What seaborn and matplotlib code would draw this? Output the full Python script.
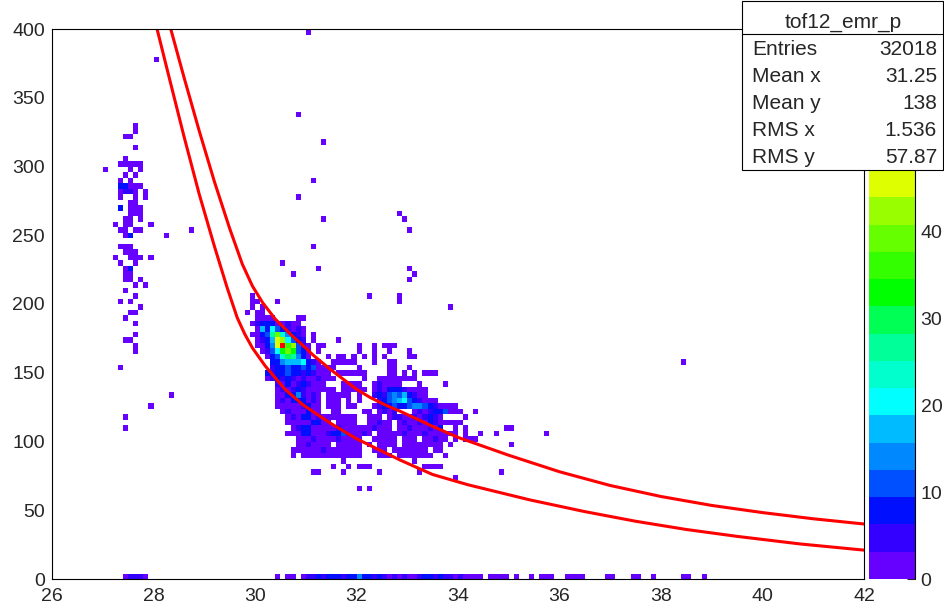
import matplotlib
matplotlib.use("Agg")
import matplotlib.pyplot as plt
from matplotlib.colors import ListedColormap, Normalize
from matplotlib.cm import ScalarMappable
from matplotlib.patches import Rectangle
from matplotlib.lines import Line2D
from matplotlib.ticker import MultipleLocator
import pandas as pd
import seaborn as sns

# ROOT-style palette bands (0 .. 47.1 in 15 steps), red above the top
palette = ["#6600ff", "#3300ff", "#0010ff", "#0050ff", "#0088ff", "#00bbff",
           "#00ffff", "#00ffcc", "#00ff99", "#00ff55", "#00ff00", "#33ff00",
           "#66ff00", "#99ff00", "#ddff00"]
band_edges = [0, 3.14, 6.28, 9.42, 12.56, 15.7, 18.84, 21.98, 25.12, 28.26,
              31.4, 34.54, 37.68, 40.82, 43.96, 46.7]
level_keys = "123456789abcdefr"
level_counts = [1.6, 4.7, 7.9, 11.0, 14.1, 17.3, 20.4, 23.6, 26.7, 29.8,
                33.0, 36.1, 39.3, 42.4, 45.5, 48.0]

# cell maps: one char per 0.1 x-bin, one row per 4 y-bin
# main cluster, first column x=29.8, top row y=204
core_rows = [
    ".1........ .......... ....1..... 1",
    ".11...1... .......... .......... 1",
    ".1.1...... .......... .......... .......... 1",
    "1.11......",
    "..1111.... 11",
    ".123331121 1",
    "..16374321 21",
    ".11349d853 21.1",
    "..1236fe74 32.1....1.",
    "..1135frce 421.11.... ..1..1.111",
    "...1247bdb 431.1..... ..1..1..1. ..1",
    "....1348a9 531...1.11 .1.1.1.1.. ..11",
    ".....33566 67321..111 11...1..11",
    ".....23343 34341111.. ..1.....11 ..1",
    "....323343 3232111.11 1111....11 .1.1.111",
    "....123232 12112111.. ...1..1111 1111",
    "......2131 232111...1 111..12111 1...1....1",
    "......1212 32111111.1 1111.12133 321111",
    "......1133 52121.1111 1.1..23245 463211",
    "......1213 33121.111. 1.1...2345 67432111",
    "......1111 12311.111. 11...12334 3345543211 11",
    ".......121 11311..11. ...11.1212 ...1212334 111..1",
    "........12 1331211111 11..111.12 211212321. ...1",
    "........11 1113311.11 11..11211. 1211213211 111",
    ".........1 2331111121 111112111. 112111213. .1.1...... .11",
    "........11 1331112334 11121.1111 1211121111 11.1..1..1 .........1",
    ".......... 1112111121 111..11111 .111.11211 .1.111",
    ".......... 1121111.11 111.1.1111 .11111111. 1......... ..1",
    ".........1 1111121111 111..111.1 111111.11.",
    ".........1 .111111111 111...111. 1111111..1",
    ".......... .........1 .......... ...1",
    ".......... .......1.. 1.111..... .....1111.",
    ".......... ...11....1 ......1... ....1..... .......... 1",
    ".......... .......... .......... .......... .1",
    "",
    ".......... .......... ..1.1",
]
core_x0, core_ytop = 29.8, 204

# left vertical band, first column x=27.0, top row y=328
left_rows = [
    "......1", "......1", "....11", "", "......1", "", "....1", "...11111",
    "1....1.1", "....1.1", "...1.1", "...33111", "...1221.1", "...1..1.1",
    ".....11", "...3.111", ".....111", "....11.1", "..1.11...1",
    "...11.11.........1", "....13......1", "", "...111", "....111",
    "..1..111.1", "...1..1", "....13", "....11", "....11.1", "......1.1",
    "....1", "......1", "...1.1", ".......1", ".....11", "....1", "......1",
    "", "......1", "....11", "......1", "......1", "", "", "...1", "",
    "", "", "", ".............1", "", ".........1", "", "....1", "", "....1",
]
left_x0, left_ytop = 27.0, 328

# lowest y bin (0-4), first column x=27.4
bottom_row = ("12221 ......................... 1.11. 1223233323 3533232121 "
              "2112332322 121111 .1111.1..1.111..1111....11...11..1.....11..1")
bottom_x0 = 27.4

# isolated single-entry cells
lone_x = [28.05, 31.05, 30.85, 31.35, 31.15, 30.85, 32.85, 32.95, 31.35,
          33.05, 31.15, 30.55, 30.75, 31.25, 33.05, 33.15, 33.05, 38.45]
lone_y = [374, 398, 334, 314, 286, 274, 262, 258, 258, 250, 238, 226, 218,
          222, 222, 218, 214, 154]

# the two red cut lines
upper_x = [28.34, 28.6, 28.9, 29.2, 29.5, 29.75, 29.95, 30.15, 30.4, 30.7,
           31.0, 31.14, 31.5, 32.0, 32.27, 32.6, 32.86, 33.5, 34.0, 35.0,
           36.0, 37.0, 38.0, 39.0, 40.0, 41.0, 42.0]
upper_y = [400, 365, 326, 289, 255, 229, 213, 201, 189, 178, 168, 163, 152,
           138, 132, 126, 122, 111, 103, 90, 78, 68, 60, 53.5, 48.3, 43.8, 40]
lower_x = [28.07, 28.3, 28.6, 28.9, 29.2, 29.45, 29.65, 29.8, 29.95, 30.2,
           30.59, 30.95, 31.5, 32.0, 32.86, 33.5, 34.2, 35.42, 36.5, 37.5,
           38.5, 39.5, 40.74, 42.0]
lower_y = [400, 366, 322, 280, 242, 212, 190, 178, 168, 155, 138, 126.5,
           113, 102, 86.5, 76, 68.5, 57.5, 49, 42, 36, 31, 25.5, 21]

stats_labels = ["Entries", "Mean x", "Mean y", "RMS x", "RMS y"]
stats_values = ["32018", "31.25", "138", "1.536", "57.87"]

xs, ys, ns = [], [], []


def add_rows(rows, x0, ytop):
    for k, row in enumerate(rows):
        for j, ch in enumerate(row.replace(" ", "")):
            if ch != ".":
                xs.append(x0 + 0.1 * j + 0.05)
                ys.append(ytop - 4 * k + 2)
                ns.append(level_counts[level_keys.index(ch)])


add_rows(core_rows, core_x0, core_ytop)
add_rows(left_rows, left_x0, left_ytop)
add_rows([bottom_row], bottom_x0, 0)
for x, y in zip(lone_x, lone_y):
    xs.append(x)
    ys.append(y + 2)
    ns.append(level_counts[0])
cells = pd.DataFrame({"x": xs, "y": ys, "n": ns})

sns.set_style("white")
plt.rcParams["font.family"] = ["Liberation Sans", "DejaVu Sans"]

W, H = 945, 608
fig = plt.figure(figsize=(W / 100, H / 100), dpi=100)


def box(x0, y0, x1, y1):
    return [x0 / W, 1 - y1 / H, (x1 - x0) / W, (y1 - y0) / H]


ax = fig.add_axes(box(52, 29, 864, 579))
cax = fig.add_axes(box(869, 170, 915, 579))

cmap = ListedColormap(palette)
cmap.set_over("#ff0000")

sns.histplot(data=cells, x="x", y="y", weights="n", bins=(160, 100),
             binrange=((26, 42), (0, 400)), cmap=cmap, vmax=47.1, ax=ax)
sns.lineplot(x=upper_x, y=upper_y, color="#ff0000", lw=2.2, ax=ax,
             estimator=None, sort=False)
sns.lineplot(x=lower_x, y=lower_y, color="#ff0000", lw=2.2, ax=ax,
             estimator=None, sort=False)

ax.set_xlim(26, 42)
ax.set_ylim(0, 400)
ax.set_xlabel("")
ax.set_ylabel("")
ax.xaxis.set_major_locator(MultipleLocator(2))
ax.xaxis.set_minor_locator(MultipleLocator(0.5))
ax.yaxis.set_major_locator(MultipleLocator(50))
ax.yaxis.set_minor_locator(MultipleLocator(10))
ax.tick_params(axis="x", which="major", direction="in", length=11.5,
               width=0.8, labelsize=14, pad=6.5)
ax.tick_params(axis="x", which="minor", direction="in", length=5.8, width=0.8)
ax.tick_params(axis="y", which="major", direction="in", length=17,
               width=0.8, labelsize=14, pad=5)
ax.tick_params(axis="y", which="minor", direction="in", length=8.6, width=0.8)
for s in ax.spines.values():
    s.set_linewidth(0.8)
    s.set_color("black")

# colour scale
mids = [(a + b) / 2 for a, b in zip(band_edges[:-1], band_edges[1:])]
sm = ScalarMappable(norm=Normalize(0, 47.1), cmap=cmap)
cb = fig.colorbar(sm, cax=cax, boundaries=band_edges, values=mids)
cb.outline.set_visible(False)
cb.set_ticks([0, 10, 20, 30, 40])
cax.minorticks_off()
cax.tick_params(direction="in", length=6, width=0.8, labelsize=14, pad=4,
                right=True, left=False)
cax.plot([1, 1], [0, 1], transform=cax.transAxes, color="black", lw=0.8,
         clip_on=False)

# stats box
fig.add_artist(Rectangle((742.5 / W, 1 - 170 / H), 201 / W, 169.5 / H,
                         transform=fig.transFigure, facecolor="white",
                         edgecolor="black", lw=0.8, zorder=5))
fig.add_artist(Line2D([742.5 / W, 943.5 / W], [1 - 34 / H, 1 - 34 / H],
                      transform=fig.transFigure, color="black", lw=0.8,
                      zorder=6))
fig.text(843 / W, 1 - 28 / H, "tof12_emr_p", ha="center", va="baseline",
         fontsize=15, zorder=7)
for i, (lab, val) in enumerate(zip(stats_labels, stats_values)):
    base = 1 - (55 + 27 * i) / H
    fig.text(752 / W, base, lab, ha="left", va="baseline", fontsize=15,
             zorder=7)
    fig.text(937 / W, base, val, ha="right", va="baseline", fontsize=15,
             zorder=7)

fig.savefig("out.png", dpi=100)
